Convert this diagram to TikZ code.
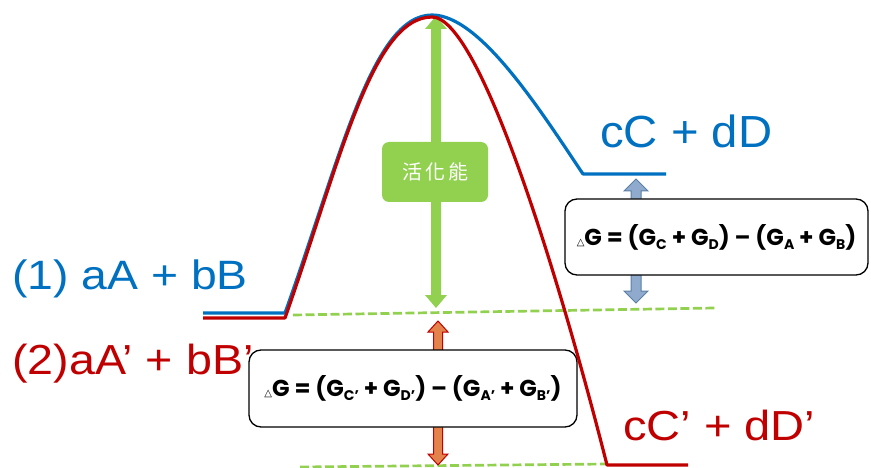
\documentclass[tikz,border=0pt]{standalone}
\usepackage{fontspec}
\setmainfont{Liberation Sans}
\newfontfamily\eqf{Poppins}
\newfontfamily\cjkf{Noto Sans CJK TC}
\newfontfamily\symf{DejaVu Sans}
\usetikzlibrary{calc}
\definecolor{myblue}{HTML}{0070C0}
\definecolor{myred}{HTML}{C00000}
\definecolor{mygreen}{HTML}{92D050}
\definecolor{bgfill}{HTML}{8FAACC}
\definecolor{bgline}{HTML}{5B7FA6}
\definecolor{orfill}{HTML}{E3834B}
\newcommand\sbs[1]{\raisebox{-4pt}{\fontsize{14}{14}\selectfont #1}}
\newcommand\tri{{\symf\fontsize{10}{10}\selectfont △}}
\tikzset{
  blueline/.style={draw=myblue, line width=3.2pt, line join=round},
  redline/.style={draw=myred, line width=3.2pt, line join=round},
  gdash/.style={draw=mygreen, line width=2.7pt, dash pattern=on 9pt off 3.5pt},
  eqbox/.style={draw=black, line width=1.3pt, rounded corners=12pt, fill=white, inner sep=0pt,
    font=\eqf\bfseries\fontsize{23}{23}\selectfont},
  actbox/.style={fill=mygreen, rounded corners=7pt, minimum width=106pt, minimum height=60pt,
    text=white, inner sep=0pt, font=\cjkf\fontsize{20}{20}\selectfont},
  lab/.style={anchor=base west, inner sep=0pt},
  garr/.style={fill=mygreen},
  barr/.style={fill=bgfill, draw=bgline, line width=1pt},
  oarr/.style={fill=orfill, draw=myred, line width=1pt},
  pics/dblarr/.style n args={5}{code={
    \path[#5] (0,0) -- (#3,#4) -- (#2,#4) -- (#2,#1-#4) -- (#3,#1-#4) -- (0,#1)
      -- (-#3,#1-#4) -- (-#2,#1-#4) -- (-#2,#4) -- (-#3,#4) -- cycle;}}
}
\begin{document}
\begin{tikzpicture}[x=1pt,y=-1pt]
\useasboundingbox (0,0) rectangle (871,468);
% reference levels
\coordinate (d1a) at (293,315);
\coordinate (d1b) at (715,308);
\coordinate (d2a) at (300,467);
\coordinate (d2b) at (606,464);
\draw[gdash] (d1a) -- (d1b);
\draw[gdash] (d2a) -- (d2b);
% labels
\node[lab, text=myblue, font=\fontsize{41}{41}\selectfont] (l1) at (12,289) {\scalebox{1.13}[1]{(1) aA + bB}};
\node[lab, text=myred, font=\fontsize{42}{42}\selectfont] (l2) at (12,374) {\scalebox{1.11}[1]{(2)aA’ + bB’}};
\node[lab, text=myblue, font=\fontsize{45}{45}\selectfont] (l3) at (600,148) {\scalebox{1.05}[1]{cC + dD}};
\node[lab, text=myred, font=\fontsize{42}{42}\selectfont] (l4) at (623,440) {\scalebox{1.12}[1]{cC’ + dD’}};
% energy curves
\coordinate (b0) at (203,313);
\coordinate (b1) at (285,313);
\coordinate (pk) at (432,15);
\coordinate (b2) at (583,174);
\coordinate (b3) at (666,174);
\coordinate (r0) at (203,318);
\coordinate (r1) at (285,318);
\coordinate (pr) at (432,17);
\coordinate (r2) at (607,465);
\coordinate (r3) at (688,465);
\draw[blueline] (b0) -- (b1) .. controls (340,160) and (372,15) .. (pk)
  .. controls (480,15) and (540,110) .. (b2) -- (b3);
% arrows
\coordinate (gtop) at (436,16);
\coordinate (btop) at (636,179);
\coordinate (otop) at (438,321);
\pic at (gtop) {dblarr={292}{5}{11}{13}{garr}};
\pic at (btop) {dblarr={124}{5}{12}{12}{barr}};
\pic at (otop) {dblarr={144}{4.5}{10}{11}{oarr}};
\node[actbox] (act) at (435,172) {活\hspace{3pt}化\hspace{3pt}能};
% boxes
\node[eqbox, minimum width=303pt, minimum height=76pt] (eq1) at (716.5,237)
  {\tri G = (G\sbs{C} + G\sbs{D}) – (G\sbs{A} + G\sbs{B})};
\node[eqbox, minimum width=328pt, minimum height=77pt] (eq2) at (413,388.5)
  {\tri G = (G\sbs{C’} + G\sbs{D’}) – (G\sbs{A’} + G\sbs{B’})};
\draw[redline] (r0) -- (r1) .. controls (340,162) and (372,17) .. (pr)
  .. controls (480,17) and (560,280) .. (r2) -- (r3);
\end{tikzpicture}
\end{document}
